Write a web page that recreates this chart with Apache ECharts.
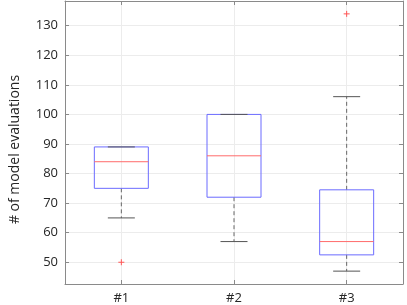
<!DOCTYPE html>
<html><head><meta charset="utf-8">
<script src="https://cdn.jsdelivr.net/npm/echarts@6/dist/echarts.min.js"></script>
<style>html,body{margin:0;padding:0;background:#fff}#c{width:407px;height:305px}</style>
</head><body><div id="c"></div>
<script>
const categories = ['#1', '#2', '#3'];
const lowerWhisker = [65, 57, 47];
const q1 = [75, 72, 52.5];
const median = [84, 86, 57];
const q3 = [89, 100, 74.5];
const upperWhisker = [89, 100, 106];
const outlierCategory = [1, 3];
const outlierValue = [50, 134];
const yMin = 42.65, yMax = 138.35;
const xMin = 0.5, xMax = 3.5;

const boxData = categories.map((c, i) => [i + 1, lowerWhisker[i], q1[i], median[i], q3[i], upperWhisker[i]]);
const outData = outlierCategory.map((c, i) => [c, outlierValue[i]]);

const BOXW = 54, CAPW = 27;
const font = 'Open Sans';
const txt = '#262626';
const frame = '#8a8a8a';
const isInt = v => Math.abs(v - Math.round(v)) < 1e-6;
const isTen = v => Math.abs(v % 10) < 1e-6;

const chart = echarts.init(document.getElementById('c'), null, {renderer: 'canvas'});
chart.setOption({
  animation: false,
  grid: {left: 46, right: 4, top: 1, bottom: 21, show: false},
  xAxis: [{
    type: 'value', min: xMin, max: xMax, splitNumber: 3, position: 'bottom',
    axisLine: {show: true, lineStyle: {color: frame}},
    axisTick: {show: true, inside: true, length: 4, lineStyle: {color: frame}},
    axisLabel: {color: txt, fontFamily: font, fontSize: 13, margin: 8,
      showMinLabel: false, showMaxLabel: false,
      formatter: v => (isInt(v) ? (categories[Math.round(v) - 1] || '') : '')},
    splitLine: {show: true, lineStyle: {color: '#ececec'}}
  }, {
    type: 'value', min: xMin, max: xMax, splitNumber: 3, position: 'top',
    axisLine: {show: true, lineStyle: {color: frame}},
    axisTick: {show: true, inside: true, length: 4, lineStyle: {color: frame}},
    axisLabel: {show: false}, splitLine: {show: false}
  }],
  yAxis: [{
    type: 'value', min: yMin, max: yMax, splitNumber: 9, position: 'left',
    name: '# of model evaluations', nameLocation: 'middle', nameGap: 43,
    nameTextStyle: {color: txt, fontFamily: font, fontSize: 14, padding: [0, 14, 0, 0]},
    axisLine: {show: true, lineStyle: {color: frame}},
    axisTick: {show: true, inside: true, length: 4, lineStyle: {color: frame}},
    axisLabel: {color: txt, fontFamily: font, fontSize: 13, margin: 7,
      showMinLabel: false, showMaxLabel: false,
      formatter: v => (isTen(v) ? String(v) : '')},
    splitLine: {show: true, lineStyle: {color: '#ececec'}}
  }, {
    type: 'value', min: yMin, max: yMax, splitNumber: 9, position: 'right',
    axisLine: {show: true, lineStyle: {color: frame}},
    axisTick: {show: true, inside: true, length: 4, lineStyle: {color: frame}},
    axisLabel: {show: false}, splitLine: {show: false}
  }],
  series: [{
    type: 'custom', xAxisIndex: 0, yAxisIndex: 0, data: boxData,
    renderItem: function (params, api) {
      const i = api.value(0);
      const pLw = api.coord([i, api.value(1)]);
      const pQ1 = api.coord([i, api.value(2)]);
      const pMed = api.coord([i, api.value(3)]);
      const pQ3 = api.coord([i, api.value(4)]);
      const pUw = api.coord([i, api.value(5)]);
      const cx = pQ1[0];
      const dash = {stroke: '#666', lineWidth: 1, lineDash: [4, 3]};
      const cap = {stroke: '#555', lineWidth: 1};
      const children = [];
      if (pUw[1] < pQ3[1]) children.push({type: 'line', shape: {x1: cx, y1: pQ3[1], x2: cx, y2: pUw[1]}, style: dash});
      if (pLw[1] > pQ1[1]) children.push({type: 'line', shape: {x1: cx, y1: pQ1[1], x2: cx, y2: pLw[1]}, style: dash});
      children.push({type: 'rect', shape: {x: cx - BOXW / 2, y: pQ3[1], width: BOXW, height: pQ1[1] - pQ3[1]},
        style: {fill: 'none', stroke: '#6b6bff', lineWidth: 1}});
      children.push({type: 'line', shape: {x1: cx - CAPW / 2, y1: pUw[1], x2: cx + CAPW / 2, y2: pUw[1]}, style: cap});
      children.push({type: 'line', shape: {x1: cx - CAPW / 2, y1: pLw[1], x2: cx + CAPW / 2, y2: pLw[1]}, style: cap});
      children.push({type: 'line', shape: {x1: cx - BOXW / 2, y1: pMed[1], x2: cx + BOXW / 2, y2: pMed[1]},
        style: {stroke: '#ff6b6b', lineWidth: 1}});
      return {type: 'group', children: children};
    }
  }, {
    type: 'custom', xAxisIndex: 0, yAxisIndex: 0, data: outData,
    renderItem: function (params, api) {
      const p = api.coord([api.value(0), api.value(1)]);
      const s = 3;
      const st = {stroke: '#ff5555', lineWidth: 1};
      return {type: 'group', children: [
        {type: 'line', shape: {x1: p[0] - s, y1: p[1], x2: p[0] + s, y2: p[1]}, style: st},
        {type: 'line', shape: {x1: p[0], y1: p[1] - s, x2: p[0], y2: p[1] + s}, style: st}
      ]};
    }
  }]
});
</script></body></html>
